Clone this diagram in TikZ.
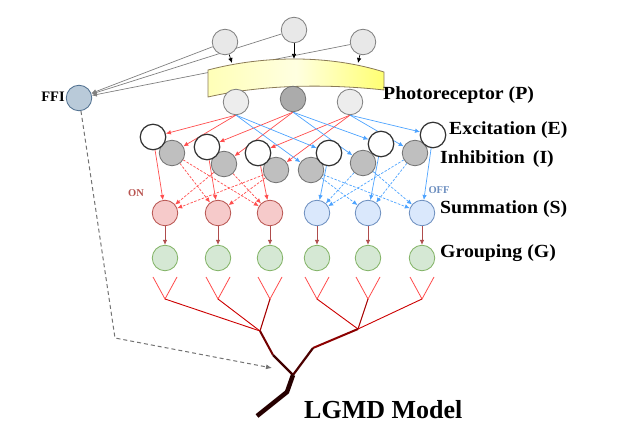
\documentclass[tikz,border=0pt]{standalone}
\usepackage{fontspec}
\setmainfont{Liberation Serif}
\newfontfamily\labfam[FakeStretch=1.07]{Liberation Serif}
\usetikzlibrary{arrows.meta}
\pgfdeclarelayer{bg}
\pgfsetlayers{bg,main}
\definecolor{onred}{HTML}{FF4D4D}
\definecolor{offblue}{HTML}{4DA3FF}
\definecolor{onfill}{HTML}{F6CACA}
\definecolor{ondraw}{HTML}{B85450}
\definecolor{offfill}{HTML}{DAE8FC}
\definecolor{offdraw}{HTML}{6C8EBF}
\definecolor{gfill}{HTML}{D5E8D4}
\definecolor{gdraw}{HTML}{82B366}
\definecolor{ffifill}{HTML}{B9CAD9}
\definecolor{ffidraw}{HTML}{4F6F8F}
\definecolor{banddraw}{HTML}{8A7A55}
\tikzset{
  cell/.style={circle, minimum size=25.5pt, inner sep=0pt, line width=0.8pt},
  topc/.style={cell, fill=black!9, draw=black!50},
  pc/.style={cell, fill=black!7, draw=black!50},
  pdark/.style={cell, fill=black!33, draw=black!55},
  ecell/.style={cell, fill=white, draw=black!80, line width=1.2pt},
  icell/.style={cell, fill=black!25, draw=black!55},
  son/.style={cell, fill=onfill, draw=ondraw},
  soff/.style={cell, fill=offfill, draw=offdraw},
  gcell/.style={cell, fill=gfill, draw=gdraw},
  ffic/.style={cell, fill=ffifill, draw=ffidraw},
  lab/.style={font=\labfam\bfseries\fontsize{18.5}{20}\selectfont, anchor=west, inner sep=0pt},
  tip/.style={-{Latex[length=5pt,width=4.5pt]}},
  onarr/.style={tip, draw=onred, line width=0.7pt},
  offarr/.style={tip, draw=offblue, line width=0.7pt},
  ondash/.style={onarr, dash pattern=on 2.5pt off 1.5pt},
  offdash/.style={offarr, dash pattern=on 2.5pt off 1.5pt},
  sgarr/.style={-{Latex[length=5pt,width=4.5pt]}, draw=red!55!black!70, line width=0.8pt},
  graylink/.style={tip, draw=black!50, line width=0.7pt},
  dend/.style={draw=red!70!white, line width=0.8pt},
}
\begin{document}
\begin{tikzpicture}[x=1pt, y=-1pt]
\useasboundingbox (0,0) rectangle (641,441);

% top circles
\node[topc] (TC1) at (225,42) {};
\node[topc] (TC2) at (294,30) {};
\node[topc] (TC3) at (363,42) {};

% band
\draw[banddraw, line width=0.8pt, left color=yellow!28, right color=yellow!55, middle color=yellow!12]
  (208,70) .. controls (265,55) and (330,55) .. (384,72) -- (384,90)
  .. controls (330,84) and (265,84) .. (208,97) -- cycle;
\coordinate (b1) at (232,63);
\coordinate (b2) at (294,59);
\coordinate (b3) at (358,63);

% photoreceptors
\node[pc] (P1) at (236,102) {};
\node[pdark] (P2) at (293,99) {};
\node[pc] (P3) at (350,102) {};

\node[ffic] (FFI) at (79,98) {};

% inhibition then excitation
\node[icell] (I1) at (172,153) {};
\node[icell] (I2) at (224,164) {};
\node[icell] (I3) at (276,170) {};
\node[icell] (I4) at (311,170) {};
\node[icell] (I5) at (363,163) {};
\node[icell] (I6) at (415,153) {};
\node[ecell] (E1) at (153,137) {};
\node[ecell] (E2) at (207,147) {};
\node[ecell] (E3) at (258,153) {};
\node[ecell] (E4) at (329,153) {};
\node[ecell] (E5) at (381,144) {};
\node[ecell] (E6) at (433,135) {};

% summation / grouping
\node[son] (S1) at (165,213) {};
\node[son] (S2) at (218,213) {};
\node[son] (S3) at (270,213) {};
\node[soff] (S4) at (317,213) {};
\node[soff] (S5) at (368,213) {};
\node[soff] (S6) at (422,213) {};
\foreach \k/\x in {1/165,2/218,3/270,4/317,5/368,6/422}{
  \node[gcell] (G\k) at (\x,258) {};
  \draw[sgarr] (S\k) -- (G\k);
}

% labels
\node[font=\bfseries\fontsize{14.5}{16}\selectfont] (ffil) at (53,97) {FFI};
\node[lab] (lp) at (383,95) {Photoreceptor (P)};
\node[lab] (le) at (449,130) {Excitation (E)};
\node[lab] (li) at (440,159) {Inhibition\, (I)};
\node[lab] (ls) at (440,209) {Summation (S)};
\node[lab] (lg) at (440,253) {Grouping (G)};
\node[font=\bfseries\fontsize{10.5}{12}\selectfont, text=ondraw] (on) at (136,193) {ON};
\node[font=\bfseries\fontsize{10.5}{12}\selectfont, text=offdraw] (off) at (439,190) {OFF};
\node[font=\bfseries\fontsize{26}{28}\selectfont, anchor=west, inner sep=0pt] (lgmd) at (304,410) {LGMD Model};

% dendrite tree
\foreach \k/\x in {1/165,2/218,3/270,4/317,5/368,6/422}{
  \coordinate (v\k) at (\x,299);
  \coordinate (vl\k) at (\x-12,277);
  \coordinate (vr\k) at (\x+12,277);
  \draw[dend] (vl\k) -- (v\k) -- (vr\k);
}
\coordinate (J1) at (260,331);
\coordinate (J2) at (358,329);
\coordinate (M1) at (273,355);
\coordinate (M2) at (313,348);
\coordinate (R) at (293,375);
\coordinate (T1) at (287,392);
\coordinate (T2) at (257,416);
\draw[draw=red!80!black, line width=0.9pt] (v1) -- (J1);
\draw[draw=red!80!black, line width=0.9pt] (v2) -- (J1);
\draw[draw=red!65!black, line width=1.1pt] (v3) -- (J1);
\draw[draw=red!80!black, line width=0.9pt] (v4) -- (J2);
\draw[draw=red!65!black, line width=1.1pt] (v5) -- (J2);
\draw[draw=red!80!black, line width=0.9pt] (v6) -- (J2);
\draw[draw=red!45!black, line width=2pt, line join=round] (J1) -- (M1);
\draw[draw=red!25!black, line width=2.2pt, line join=round] (M1) -- (R);
\draw[draw=red!55!black, line width=2pt, line join=round] (J2) -- (M2);
\draw[draw=red!30!black, line width=2.2pt, line join=round] (M2) -- (R);
\draw[draw=red!15!black, line width=4.5pt, line join=round] (R) -- (T1) -- (T2);

% FFI dashed path
\coordinate (ffibend) at (115,338);
\coordinate (ffiend) at (272,368);
\draw[draw=black!55, line width=1pt, dash pattern=on 4pt off 3pt, -{Latex[length=6pt,width=5pt]}]
  (FFI) -- (ffibend) -- (ffiend);

\begin{pgfonlayer}{bg}
  % top circles to FFI
  \draw[graylink] (TC1) -- (FFI);
  \draw[graylink] (TC2) -- (FFI);
  \draw[graylink] (TC3) -- (FFI);
  \draw[tip, black, line width=0.7pt] (TC1) -- (b1);
  \draw[tip, black, line width=0.7pt] (TC2) -- (b2);
  \draw[tip, black, line width=0.7pt] (TC3) -- (b3);
  % photoreceptor to E / I
  \draw[onarr] (P1.south) -- (E1);
  \draw[onarr] (P1.south) -- (I1);
  \draw[onarr] (P2.south) -- (E2);
  \draw[onarr] (P2.south) -- (I2);
  \draw[onarr] (P3.south) -- (E3);
  \draw[onarr] (P3.south) -- (I3);
  \draw[offarr] (P1.south) -- (E4);
  \draw[offarr] (P1.south) -- (I4);
  \draw[offarr] (P2.south) -- (E5);
  \draw[offarr] (P2.south) -- (I5);
  \draw[offarr] (P3.south) -- (E6);
  \draw[offarr] (P3.south) -- (I6);
  % E to S, I to S
  \draw[onarr] (E1) -- (S1);
  \draw[onarr] (E2) -- (S2);
  \draw[onarr] (E3) -- (S3);
  \draw[offarr] (E4) -- (S4);
  \draw[offarr] (E5) -- (S5);
  \draw[offarr] (E6) -- (S6);
  \draw[ondash] (I1) -- (S2);
  \draw[ondash] (I1) -- (S3);
  \draw[ondash] (I2) -- (S1);
  \draw[ondash] (I2) -- (S3);
  \draw[ondash] (I3) -- (S1);
  \draw[ondash] (I3) -- (S2);
  \draw[offdash] (I4) -- (S5);
  \draw[offdash] (I4) -- (S6);
  \draw[offdash] (I5) -- (S4);
  \draw[offdash] (I5) -- (S6);
  \draw[offdash] (I6) -- (S4);
  \draw[offdash] (I6) -- (S5);
\end{pgfonlayer}
\end{tikzpicture}
\end{document}
